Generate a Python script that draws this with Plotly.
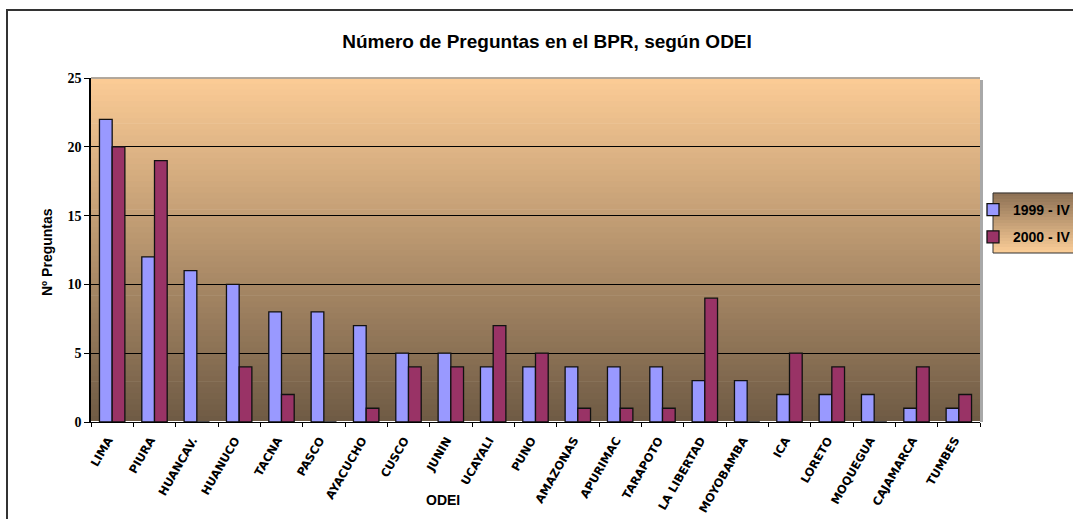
import plotly.graph_objects as go

categories = ["LIMA", "PIURA", "HUANCAV.", "HUANUCO", "TACNA", "PASCO", "AYACUCHO",
              "CUSCO", "JUNIN", "UCAYALI", "PUNO", "AMAZONAS", "APURIMAC", "TARAPOTO",
              "LA LIBERTAD", "MOYOBAMBA", "ICA", "LORETO", "MOQUEGUA", "CAJAMARCA", "TUMBES"]
values_1999 = [22, 12, 11, 10, 8, 8, 7, 5, 5, 4, 4, 4, 4, 4, 3, 3, 2, 2, 2, 1, 1]
values_2000 = [20, 19, 0, 4, 2, 0, 1, 4, 4, 7, 5, 1, 1, 1, 9, 0, 5, 4, 0, 4, 2]
series_names = ["1999 - IV", "2000 - IV"]

W, H = 1073, 519
L, R, T, B = 91, 980, 78, 422  # plot area in pixels
pw, ph = R - L, B - T


def px_x(x):
    return (x - L) / pw


def px_y(y):
    return (B - y) / ph


def lerp(c1, c2, t):
    return "rgb(%d,%d,%d)" % tuple(round(a + (b - a) * t) for a, b in zip(c1, c2))


shapes = []
top_c, bot_c = (252, 204, 150), (110, 90, 68)
N = 60
for i in range(N):
    shapes.append(dict(type="rect", xref="paper", yref="paper", layer="below",
                       x0=0, x1=1, y0=i / N, y1=(i + 1) / N + 0.002,
                       fillcolor=lerp(bot_c, top_c, (i + 0.5) / N), line=dict(width=0)))
shapes.append(dict(type="rect", xref="paper", yref="paper", layer="below",
                   x0=1.0, x1=1.0 + 3 / pw, y0=0.0, y1=1.0 - 2 / ph,
                   fillcolor="#a8a8a8", line=dict(width=0)))
shapes.append(dict(type="line", xref="paper", yref="paper", layer="below",
                   x0=0, x1=1, y0=1, y1=1, line=dict(color="#9a9a9a", width=1.5)))
lx0, lx1 = px_x(993), px_x(1090)
ly0, ly1 = px_y(253), px_y(193)
M = 20
for i in range(M):
    y0 = ly0 + (ly1 - ly0) * i / M
    y1 = ly0 + (ly1 - ly0) * (i + 1) / M
    shapes.append(dict(type="rect", xref="paper", yref="paper", layer="below",
                       x0=lx0, x1=lx1, y0=y0, y1=y1 + 0.001,
                       fillcolor=lerp((252, 206, 152), (140, 112, 84), (i + 0.5) / M),
                       line=dict(width=0)))
shapes.append(dict(type="rect", xref="paper", yref="paper", layer="below",
                   x0=lx0, x1=lx1, y0=ly0, y1=ly1,
                   fillcolor="rgba(0,0,0,0)", line=dict(color="#333333", width=1)))
shapes.append(dict(type="rect", xref="paper", yref="paper", layer="below",
                   x0=px_x(7), x1=px_x(1100), y0=px_y(560), y1=px_y(10),
                   fillcolor="rgba(0,0,0,0)", line=dict(color="#333333", width=2)))

fig = go.Figure()
fig.add_trace(go.Bar(x=categories, y=values_1999, name=series_names[0],
                     marker=dict(color="#9999FF", line=dict(color="#111111", width=1.3)),
                     legendgroup="a"))
fig.add_trace(go.Bar(x=categories, y=values_2000, name=series_names[1],
                     marker=dict(color="#993366", line=dict(color="#111111", width=1.3)),
                     legendgroup="b"))

fig.update_layout(
    width=W, height=H,
    margin=dict(l=L, r=W - R, t=T, b=H - B, pad=0, autoexpand=False),
    paper_bgcolor="white", plot_bgcolor="rgba(0,0,0,0)",
    barmode="group", bargap=0.4, bargroupgap=0,
    title=dict(text="<b>Número de Preguntas en el BPR, según ODEI</b>",
               x=547 / W, xanchor="center", xref="container",
               y=1 - 41 / H, yanchor="middle", yref="container",
               font=dict(family="Arial, Liberation Sans", size=19, color="black")),
    xaxis=dict(tickangle=-60, tickson="boundaries", ticks="outside", ticklen=4,
               tickcolor="black", showline=True, linecolor="black", linewidth=1,
               ticklabelstandoff=6, ticklabelshift=-4, automargin=False,
               tickfont=dict(family="DejaVu Sans", size=11.5, color="black", weight="bold"),
               showgrid=False, range=[-0.5, len(categories) - 0.5]),
    yaxis=dict(range=[0, 25], dtick=5, ticks="outside", ticklen=5, tickcolor="black",
               showline=True, linecolor="black", linewidth=1.5, automargin=False,
               showgrid=True, gridcolor="black", gridwidth=1,
               tickfont=dict(family="Liberation Serif, Times New Roman", size=14,
                             color="black", weight="bold")),
    legend=dict(x=px_x(973), y=px_y(194), xanchor="left", yanchor="top",
                bgcolor="rgba(0,0,0,0)", borderwidth=0, traceorder="grouped",
                tracegroupgap=6,
                font=dict(family="Arial, Liberation Sans", size=14, color="black",
                          weight="bold")),
    shapes=shapes,
    annotations=[
        dict(text="<b>Nº Preguntas</b>", xref="paper", yref="paper", x=px_x(47),
             y=px_y(252), textangle=-90, showarrow=False, xanchor="center",
             yanchor="middle", font=dict(family="Arial, Liberation Sans", size=14,
                                         color="black")),
        dict(text="<b>ODEI</b>", xref="paper", yref="paper", x=px_x(443),
             y=px_y(500), showarrow=False, xanchor="center", yanchor="middle",
             font=dict(family="Arial, Liberation Sans", size=14, color="black")),
    ],
)

# remove the default 8px page margin so the 1073x519 figure fills the window exactly
fig.write_html("out.html", config={"displayModeBar": False},
               post_script="document.body.style.margin='0';")
